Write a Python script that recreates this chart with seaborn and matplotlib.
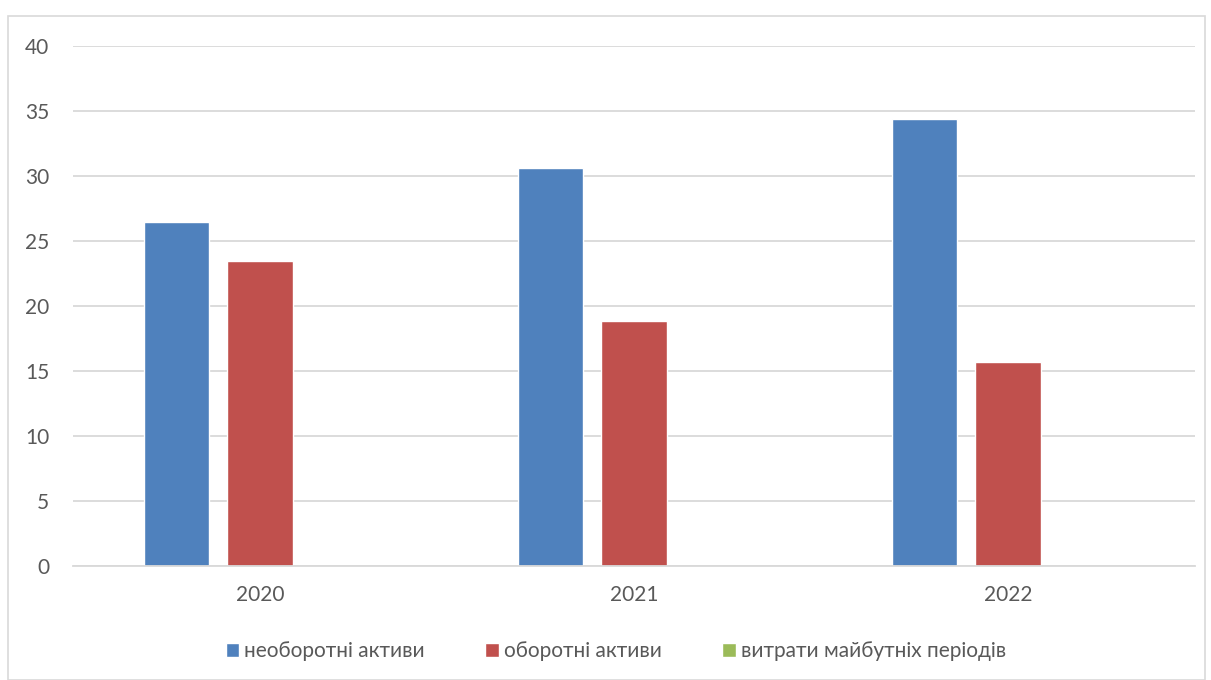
import matplotlib
matplotlib.use("Agg")
import matplotlib.pyplot as plt
from matplotlib.patches import Rectangle
import seaborn as sns
import pandas as pd

years = ["2020", "2021", "2022"]
series = ["необоротні активи", "оборотні активи", "витрати майбутніх періодів"]
non_current = [26.5, 30.6, 34.4]
current = [23.5, 18.85, 15.7]
deferred = [0.0, 0.0, 0.0]
colors = ["#4F81BD", "#C0504D", "#9BBB59"]

rows = []
for name, vals in zip(series, [non_current, current, deferred]):
    for y, v in zip(years, vals):
        rows.append({"year": y, "series": name, "value": v})
df = pd.DataFrame(rows)

sns.set_theme(style="white")
plt.rcParams['font.family'] = ['Lato', 'DejaVu Sans']

fig = plt.figure(figsize=(12.11, 6.8), dpi=100)
ax = fig.add_axes([73/1211, 1-566/680, (1195-73)/1211, (566-46)/680])

sns.barplot(data=df, x="year", y="value", hue="series", order=years,
            hue_order=series, palette=colors, width=0.666, gap=0.217,
            saturation=1, ax=ax, legend=True)

ax.set_ylim(0, 40)
ax.set_xlim(-0.5, 2.5)
ax.set_yticks(range(0, 41, 5))
ax.yaxis.grid(True, color="#d9d9d9", linewidth=1.3)
ax.set_axisbelow(True)
for s in ["top", "right", "left"]:
    ax.spines[s].set_visible(False)
ax.spines["bottom"].set_color("#d9d9d9")
ax.spines["bottom"].set_linewidth(1.3)
ax.tick_params(axis="both", length=0, labelsize=15, colors="#595959")
ax.tick_params(axis="y", pad=17)
ax.tick_params(axis="x", pad=14)
ax.set_xlabel("")
ax.set_ylabel("")

handles, labels = ax.get_legend_handles_labels()
ax.get_legend().remove()
fig.legend(handles, labels, loc="center", bbox_to_anchor=(616/1211, 1-651/680),
           ncol=3, frameon=False, fontsize=15, handlelength=0.65, handleheight=0.65,
           handletextpad=0.25, columnspacing=2.9, labelcolor="#595959")

fig.patches.append(Rectangle((8/1211, 0), (1205-8)/1211, 1-16/680,
                             transform=fig.transFigure, fill=False,
                             edgecolor="#d9d9d9", linewidth=1.2))

fig.savefig("out.png", dpi=100)
